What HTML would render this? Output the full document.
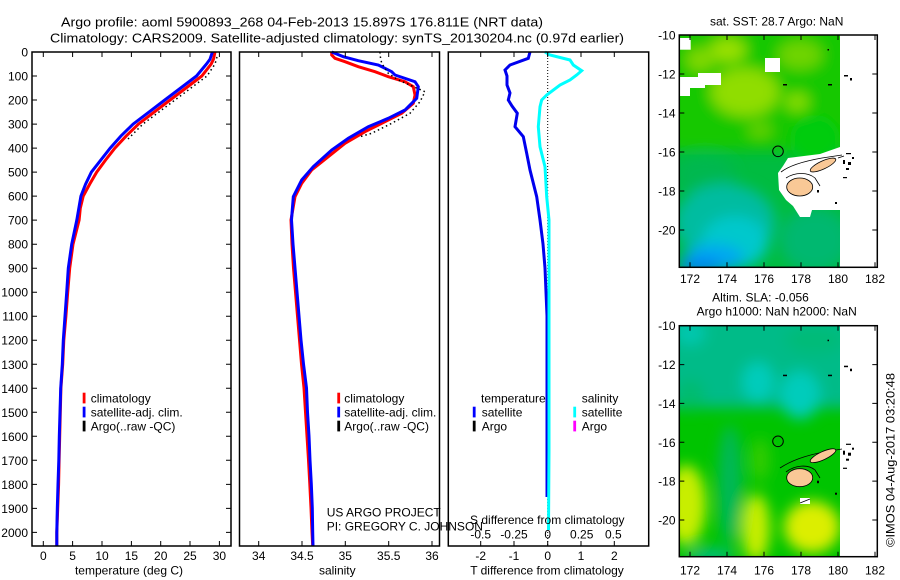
<!DOCTYPE html>
<html><head><meta charset="utf-8"><style>
html,body{margin:0;padding:0;background:#fff;}
svg{display:block;font-family:"Liberation Sans",sans-serif;font-size:12px;}
</style></head><body>
<svg width="900" height="580" viewBox="0 0 900 580" xmlns="http://www.w3.org/2000/svg">
<defs>
<filter id="b" x="-50%" y="-50%" width="200%" height="200%"><feGaussianBlur stdDeviation="7"/></filter>
<clipPath id="c1"><rect x="679.3" y="35" width="160.7" height="232.3"/></clipPath>
<clipPath id="c2"><rect x="679.3" y="325.7" width="160.7" height="231"/></clipPath>
</defs>
<rect width="900" height="580" fill="#fff"/>

<!-- Titles -->
<text x="61" y="26.7" font-size="13" textLength="482" lengthAdjust="spacingAndGlyphs">Argo profile: aoml 5900893_268 04-Feb-2013 15.897S 176.811E (NRT data)</text>
<text x="50" y="42.5" font-size="13" textLength="574" lengthAdjust="spacingAndGlyphs">Climatology: CARS2009. Satellite-adjusted climatology: synTS_20130204.nc (0.97d earlier)</text>

<!-- ===== Panel 1: temperature ===== -->
<polyline fill="none" stroke="#ff0000" stroke-width="3" points="215,52 213.5,59.2 211.2,64 201.8,76 186,88 170.1,100 154.2,112.1 138.4,124.1 126.1,136.1 114.9,148.1 105.5,160.1 96.7,172.1 89.7,184.1 83.2,196.1 80.3,208.1 79.1,220.1 73,244.2 69.7,268.2 67.7,292.2 65.9,316.2 63.8,340.2 62.7,364.3 60.9,388.3 60.3,412.3 59.7,436.3 59.1,460.3 58.6,484.4 57.7,508.4 56.8,532.4 56.8,546"/>
<polyline fill="none" stroke="#0000ff" stroke-width="3" points="212.4,52 210,59.2 206.5,64 196.5,76 180.7,88 164.8,100 149,112.1 133.1,124.1 120.8,136.1 110.2,148.1 100.8,160.1 91.4,172.1 85.6,184.1 80.9,196.1 76.8,220.1 71.7,244.2 68.3,268.2 66.7,292.2 65,316.2 63.3,340.2 62.3,364.3 60.7,388.3 60,412.3 59.3,436.3 58.8,460.3 58,484.4 57.3,508.4 56.8,532.4 56.8,546"/>
<polyline fill="none" stroke="#000" stroke-width="1.5" stroke-dasharray="1.5,3" points="217,57 215,64 207,76 191,88 175,100 159,112 143,124 131,136 128,139"/>
<rect x="32" y="52" width="199" height="494" fill="none" stroke="#000" stroke-width="1.5"/>
<path stroke="#000" stroke-width="1" fill="none" d="M32 76h5M32 100h5M32 124.1h5M32 148.1h5M32 172.1h5M32 196.1h5M32 220.1h5M32 244.2h5M32 268.2h5M32 292.2h5M32 316.2h5M32 340.2h5M32 364.3h5M32 388.3h5M32 412.3h5M32 436.3h5M32 460.3h5M32 484.4h5M32 508.4h5M32 532.4h5
M231 76h-5M231 100h-5M231 124.1h-5M231 148.1h-5M231 172.1h-5M231 196.1h-5M231 220.1h-5M231 244.2h-5M231 268.2h-5M231 292.2h-5M231 316.2h-5M231 340.2h-5M231 364.3h-5M231 388.3h-5M231 412.3h-5M231 436.3h-5M231 460.3h-5M231 484.4h-5M231 508.4h-5M231 532.4h-5
M43.3 52v5M72.6 52v5M102 52v5M131.4 52v5M160.7 52v5M190 52v5M219.4 52v5
M43.3 546v-5M72.6 546v-5M102 546v-5M131.4 546v-5M160.7 546v-5M190 546v-5M219.4 546v-5"/>
<g text-anchor="end">
<text x="28" y="56.5">0</text><text x="28" y="80.5">100</text><text x="28" y="104.5">200</text><text x="28" y="128.6">300</text><text x="28" y="152.6">400</text><text x="28" y="176.6">500</text><text x="28" y="200.6">600</text><text x="28" y="224.6">700</text><text x="28" y="248.7">800</text><text x="28" y="272.7">900</text><text x="28" y="296.7">1000</text><text x="28" y="320.7">1100</text><text x="28" y="344.7">1200</text><text x="28" y="368.8">1300</text><text x="28" y="392.8">1400</text><text x="28" y="416.8">1500</text><text x="28" y="440.8">1600</text><text x="28" y="464.8">1700</text><text x="28" y="488.9">1800</text><text x="28" y="512.9">1900</text><text x="28" y="536.9">2000</text>
</g>
<g text-anchor="middle">
<text x="43.3" y="560">0</text><text x="72.6" y="560">5</text><text x="102" y="560">10</text><text x="131.4" y="560">15</text><text x="160.7" y="560">20</text><text x="190" y="560">25</text><text x="219.4" y="560">30</text>
<text x="129" y="574.3">temperature (deg C)</text>
</g>
<rect x="82.7" y="392.7" width="2.8" height="10.7" fill="#ff0000"/>
<rect x="82.7" y="406.7" width="2.8" height="10.7" fill="#0000ff"/>
<rect x="82.7" y="420.7" width="2.8" height="10.7" fill="#000"/>
<text x="90.7" y="402.5">climatology</text>
<text x="90.7" y="416.5">satellite-adj. clim.</text>
<text x="90.7" y="430.5">Argo(..raw -QC)</text>

<!-- ===== Panel 2: salinity ===== -->
<polyline fill="none" stroke="#ff0000" stroke-width="3" points="331.7,52 331.7,55 335,58.3 345,61.7 358.3,66.7 375,71.7 388.3,76.7 405,81.7 413.3,86.7 415,95 413.3,103.3 401.7,113.3 385,121.7 365,131.7 345,143.3 328.3,156.7 311.7,170 301.7,183.3 295,196.7 291,220 292,244 293.5,268 295.5,292 297.5,316 299.5,340 301.5,364 304,388 305.5,412 307,436 308.5,460 309.8,484 311,508 312,532 312.7,546"/>
<polyline fill="none" stroke="#0000ff" stroke-width="3" points="331.7,52 343.3,56.7 358.3,60.7 378.3,65 391.7,71.7 395,75 415,81.7 418.3,86.7 416.7,98.3 405,110 388.3,118.3 368.3,126.7 348.3,138.3 331.7,150 313.3,166.7 301.7,180 293.3,196.7 291.5,220 293,244 295,268 297,292 299,316 301,340 303.5,364 306.5,388 307.5,412 309,436 310,460 311.3,484 312.3,508 312.7,532 313,546"/>
<polyline fill="none" stroke="#000" stroke-width="1.5" stroke-dasharray="1.5,3" points="380,52 380,55 381.7,63.3 388.3,73.3 398.3,80 425,91.7 420,101.7 410,113.3 391.7,123.3 371.7,133.3 360,136.7"/>
<rect x="239.5" y="52" width="200" height="494" fill="none" stroke="#000" stroke-width="1.5"/>
<path stroke="#000" stroke-width="1" fill="none" d="M258.7 52v5M302 52v5M345.3 52v5M388.7 52v5M432 52v5M258.7 546v-5M302 546v-5M345.3 546v-5M388.7 546v-5M432 546v-5"/>
<g text-anchor="middle">
<text x="258.7" y="560">34</text><text x="302" y="560">34.5</text><text x="345.3" y="560">35</text><text x="388.7" y="560">35.5</text><text x="432" y="560">36</text>
<text x="337.3" y="574.3">salinity</text>
</g>
<rect x="337.3" y="392.7" width="2.8" height="10.7" fill="#ff0000"/>
<rect x="337.3" y="406.7" width="2.8" height="10.7" fill="#0000ff"/>
<rect x="337.3" y="420.7" width="2.8" height="10.7" fill="#000"/>
<text x="344.3" y="402.5">climatology</text>
<text x="344.3" y="416.5">satellite-adj. clim.</text>
<text x="344.3" y="430.5">Argo(..raw -QC)</text>

<!-- ===== Panel 3: differences ===== -->
<line x1="547.7" y1="52" x2="547.7" y2="546" stroke="#000" stroke-width="1" stroke-dasharray="1,2"/>
<polyline fill="none" stroke="#0000ee" stroke-width="3" points="530,52 528.3,58.3 510,65 505,70 507,76 507,85 510,93 508.3,100 512,106 517.3,113.3 515,126.7 523.3,136.7 526.7,153.3 530,170 536.7,196.7 540,220 543,244 545,268 546,292 547,316 547,497"/>
<polyline fill="none" stroke="#00ffff" stroke-width="3" points="545,52 550,55 570,60 573.3,65 581.7,70.7 576.7,75 570,80 560,85 546.7,95 541.7,100 540,106.7 538.3,126.7 540,146.7 545,166.7 546.7,196.7 549,220 549,300 549,450 548.5,530"/>
<rect x="448.3" y="52" width="200.4" height="494" fill="none" stroke="#000" stroke-width="1.5"/>
<path stroke="#000" stroke-width="1" fill="none" d="M480.7 52v5M514 52v5M547.7 52v5M581 52v5M614.3 52v5M480.7 546v-5M514 546v-5M547.7 546v-5M581 546v-5M614.3 546v-5"/>
<text x="481" y="402.5">temperature</text>
<rect x="472.8" y="406.7" width="2.8" height="10.7" fill="#0000ff"/>
<rect x="472.8" y="420.7" width="2.8" height="10.7" fill="#000"/>
<text x="481.7" y="416.5">satellite</text>
<text x="481.7" y="430.5">Argo</text>
<text x="581.7" y="402.5">salinity</text>
<rect x="573.3" y="406.7" width="2.8" height="10.7" fill="#00ffff"/>
<rect x="573.3" y="420.7" width="2.8" height="10.7" fill="#ff00ff"/>
<text x="581.7" y="416.5">satellite</text>
<text x="581.7" y="430.5">Argo</text>
<g text-anchor="middle">
<text x="547.3" y="524">S difference from climatology</text>
<text x="480.7" y="538.5">-0.5</text><text x="514" y="538.5">-0.25</text><text x="547.7" y="538.5">0</text><text x="581.7" y="538.5">0.25</text><text x="613.3" y="538.5">0.5</text>
<text x="480.7" y="560">-2</text><text x="514" y="560">-1</text><text x="547.7" y="560">0</text><text x="581" y="560">1</text><text x="614.3" y="560">2</text>
<text x="547" y="574.3">T difference from climatology</text>
</g>
<text x="326.7" y="516.7">US ARGO PROJECT</text>
<text x="326.7" y="530.7">PI: GREGORY C. JOHNSON</text>

<!-- ===== Map 1: SST ===== -->
<text x="776.7" y="25.5" text-anchor="middle">sat. SST: 28.7 Argo: NaN</text>
<g clip-path="url(#c1)">
<rect x="679.3" y="35" width="160.7" height="232.3" fill="#00bc40"/>
<g filter="url(#b)">
<rect x="665" y="20" width="190" height="130" fill="#18c800"/>
<ellipse cx="745" cy="92" rx="34" ry="24" fill="#90dd00"/>
<ellipse cx="728" cy="50" rx="18" ry="12" fill="#99e000"/>
<ellipse cx="800" cy="55" rx="22" ry="14" fill="#70d400"/>
<ellipse cx="700" cy="60" rx="14" ry="12" fill="#80d800"/>
<ellipse cx="797" cy="102" rx="12" ry="9" fill="#88dd00"/>
<ellipse cx="760" cy="130" rx="12" ry="9" fill="#60d000"/>
<ellipse cx="815" cy="140" rx="25" ry="25" fill="#00cc10"/>
<ellipse cx="705" cy="175" rx="30" ry="20" fill="#00b850"/>
<ellipse cx="815" cy="240" rx="35" ry="32" fill="#00b870"/>
<ellipse cx="725" cy="222" rx="50" ry="38" fill="#00bca0"/>
<ellipse cx="735" cy="242" rx="33" ry="26" fill="#00c8cc"/>
<ellipse cx="714" cy="258" rx="30" ry="14" fill="#00a8f0"/>
<ellipse cx="700" cy="266" rx="22" ry="8" fill="#0084f0"/>
</g>
<rect x="679.7" y="38" width="11" height="11.7" fill="#fff"/>
<rect x="765" y="58" width="15" height="14" fill="#fff"/>
<polygon fill="#fff" points="679,77 698,77 698,73 721,73 721,85 705,85 705,88 690,88 690,96 679,96"/>
<polygon fill="#fff" points="788,158 820,154 840,147 840,210 812,210 810,217 800,217 793,206 786,200 779,190 778,173 783,166"/>
</g>
<g fill="none" stroke="#000" stroke-width="0.8">
<path d="M781 172 C790 165 805 161 822 158 L842 155"/>
<path d="M786 178 C795 172 808 172 815 178 L820 186"/>
<path d="M812 168 L826 160 M838 158 l6 -2"/>
</g>
<ellipse cx="799.7" cy="187" rx="13" ry="9" fill="#f9c896" stroke="#000" stroke-width="0.8"/>
<ellipse cx="823" cy="165" rx="14" ry="4" fill="#f9c896" stroke="#000" stroke-width="0.8" transform="rotate(-25 823 165)"/>
<g fill="#000">
<rect x="783" y="84" width="4" height="1.5"/><rect x="828" y="84" width="4" height="1.5"/><rect x="827.5" y="49" width="1.5" height="1.5"/>
<rect x="844" y="75" width="4" height="1.5"/><rect x="850" y="78" width="2" height="2.5"/>
<rect x="846" y="153" width="5" height="1.2"/><rect x="843" y="160" width="2" height="4"/><rect x="848" y="162" width="3" height="3"/><rect x="852" y="157" width="2" height="2"/><rect x="846" y="168" width="3" height="2"/><rect x="843" y="177" width="4" height="1.2"/>
<rect x="835" y="202" width="2" height="2"/><rect x="817" y="190" width="2" height="2.5"/>
</g>
<circle cx="778" cy="151.3" r="5.3" fill="none" stroke="#000" stroke-width="1"/>
<rect x="679.3" y="35" width="198" height="232.3" fill="none" stroke="#000" stroke-width="1.5"/>
<path stroke="#000" stroke-width="1" fill="none" d="M690 35v5M727 35v5M764 35v5M801 35v5M838 35v5M875 35v5M690 267.3v-5M727 267.3v-5M764 267.3v-5M801 267.3v-5M838 267.3v-5M875 267.3v-5
M679.3 74h5M679.3 113h5M679.3 152h5M679.3 191h5M679.3 230h5M877.3 74h-5M877.3 113h-5M877.3 152h-5M877.3 191h-5M877.3 230h-5"/>
<g text-anchor="end">
<text x="675.5" y="39.5">-10</text><text x="675.5" y="78.5">-12</text><text x="675.5" y="117.5">-14</text><text x="675.5" y="156.5">-16</text><text x="675.5" y="195.5">-18</text><text x="675.5" y="234.5">-20</text>
</g>
<g text-anchor="middle">
<text x="690" y="283">172</text><text x="727" y="283">174</text><text x="764" y="283">176</text><text x="801" y="283">178</text><text x="838" y="283">180</text><text x="875" y="283">182</text>
</g>

<!-- ===== Map 2: SLA ===== -->
<text x="760.5" y="301.5" text-anchor="middle">Altim. SLA: -0.056</text>
<text x="776.7" y="315.5" text-anchor="middle">Argo h1000: NaN h2000: NaN</text>
<g clip-path="url(#c2)">
<rect x="679.3" y="325.7" width="160.7" height="231" fill="#00c400"/>
<g filter="url(#b)">
<rect x="665" y="310" width="190" height="98" fill="#00bb88"/>
<ellipse cx="690" cy="395" rx="15" ry="15" fill="#00bb70"/>
<ellipse cx="758" cy="382" rx="16" ry="20" fill="#00ccbb"/>
<ellipse cx="800" cy="395" rx="20" ry="24" fill="#00ccbb"/>
<ellipse cx="690" cy="333" rx="15" ry="12" fill="#00c8b0"/>
<ellipse cx="815" cy="340" rx="30" ry="14" fill="#00bb78"/>
<ellipse cx="760" cy="460" rx="10" ry="22" fill="#30cc00"/>
<ellipse cx="730" cy="485" rx="12" ry="60" fill="#00b858"/>
<ellipse cx="686" cy="505" rx="20" ry="40" fill="#c8ee00"/>
<ellipse cx="756" cy="528" rx="14" ry="34" fill="#c8ee00"/>
<ellipse cx="812" cy="527" rx="28" ry="26" fill="#dcee00"/>
<ellipse cx="710" cy="556" rx="25" ry="8" fill="#00bb80"/>
</g>
<rect x="800" y="498" width="10" height="6" fill="#fff"/>
</g>
<g fill="none" stroke="#000" stroke-width="0.8">
<path d="M780 468 C792 460 808 455 824 452 L842 449"/>
<path d="M786 472 C795 465 808 464 815 470 L820 478"/>
<path d="M800 503 l10 -4"/>
</g>
<ellipse cx="799.7" cy="477.7" rx="13" ry="9" fill="#f9c896" stroke="#000" stroke-width="0.8"/>
<ellipse cx="823" cy="455.7" rx="14" ry="4" fill="#f9c896" stroke="#000" stroke-width="0.8" transform="rotate(-25 823 455.7)"/>
<g fill="#000">
<rect x="783" y="374.7" width="4" height="1.5"/><rect x="828" y="374.7" width="4" height="1.5"/><rect x="827.5" y="339.7" width="1.5" height="1.5"/>
<rect x="844" y="365.7" width="4" height="1.5"/><rect x="850" y="368.7" width="2" height="2.5"/>
<rect x="846" y="443.7" width="5" height="1.2"/><rect x="843" y="450.7" width="2" height="4"/><rect x="848" y="452.7" width="3" height="3"/><rect x="852" y="447.7" width="2" height="2"/><rect x="846" y="458.7" width="3" height="2"/><rect x="843" y="467.7" width="4" height="1.2"/>
<rect x="835" y="492.7" width="2" height="2"/><rect x="817" y="480.7" width="2" height="2.5"/>
</g>
<circle cx="778" cy="441.3" r="5.3" fill="none" stroke="#000" stroke-width="1"/>
<rect x="679.3" y="325.7" width="198" height="231" fill="none" stroke="#000" stroke-width="1.5"/>
<path stroke="#000" stroke-width="1" fill="none" d="M690 325.7v5M727 325.7v5M764 325.7v5M801 325.7v5M838 325.7v5M875 325.7v5M690 556.7v-5M727 556.7v-5M764 556.7v-5M801 556.7v-5M838 556.7v-5M875 556.7v-5
M679.3 364.6h5M679.3 403.4h5M679.3 442.3h5M679.3 481.1h5M679.3 520h5M877.3 364.6h-5M877.3 403.4h-5M877.3 442.3h-5M877.3 481.1h-5M877.3 520h-5"/>
<g text-anchor="end">
<text x="675.5" y="330.2">-10</text><text x="675.5" y="369.1">-12</text><text x="675.5" y="407.9">-14</text><text x="675.5" y="446.8">-16</text><text x="675.5" y="485.6">-18</text><text x="675.5" y="524.5">-20</text>
</g>
<g text-anchor="middle">
<text x="690" y="574.5">172</text><text x="727" y="574.5">174</text><text x="764" y="574.5">176</text><text x="801" y="574.5">178</text><text x="838" y="574.5">180</text><text x="875" y="574.5">182</text>
</g>
<text transform="translate(894.5,460) rotate(-90)" text-anchor="middle" textLength="174" lengthAdjust="spacingAndGlyphs">©IMOS 04-Aug-2017 03:20:48</text>
</svg>
</body></html>
